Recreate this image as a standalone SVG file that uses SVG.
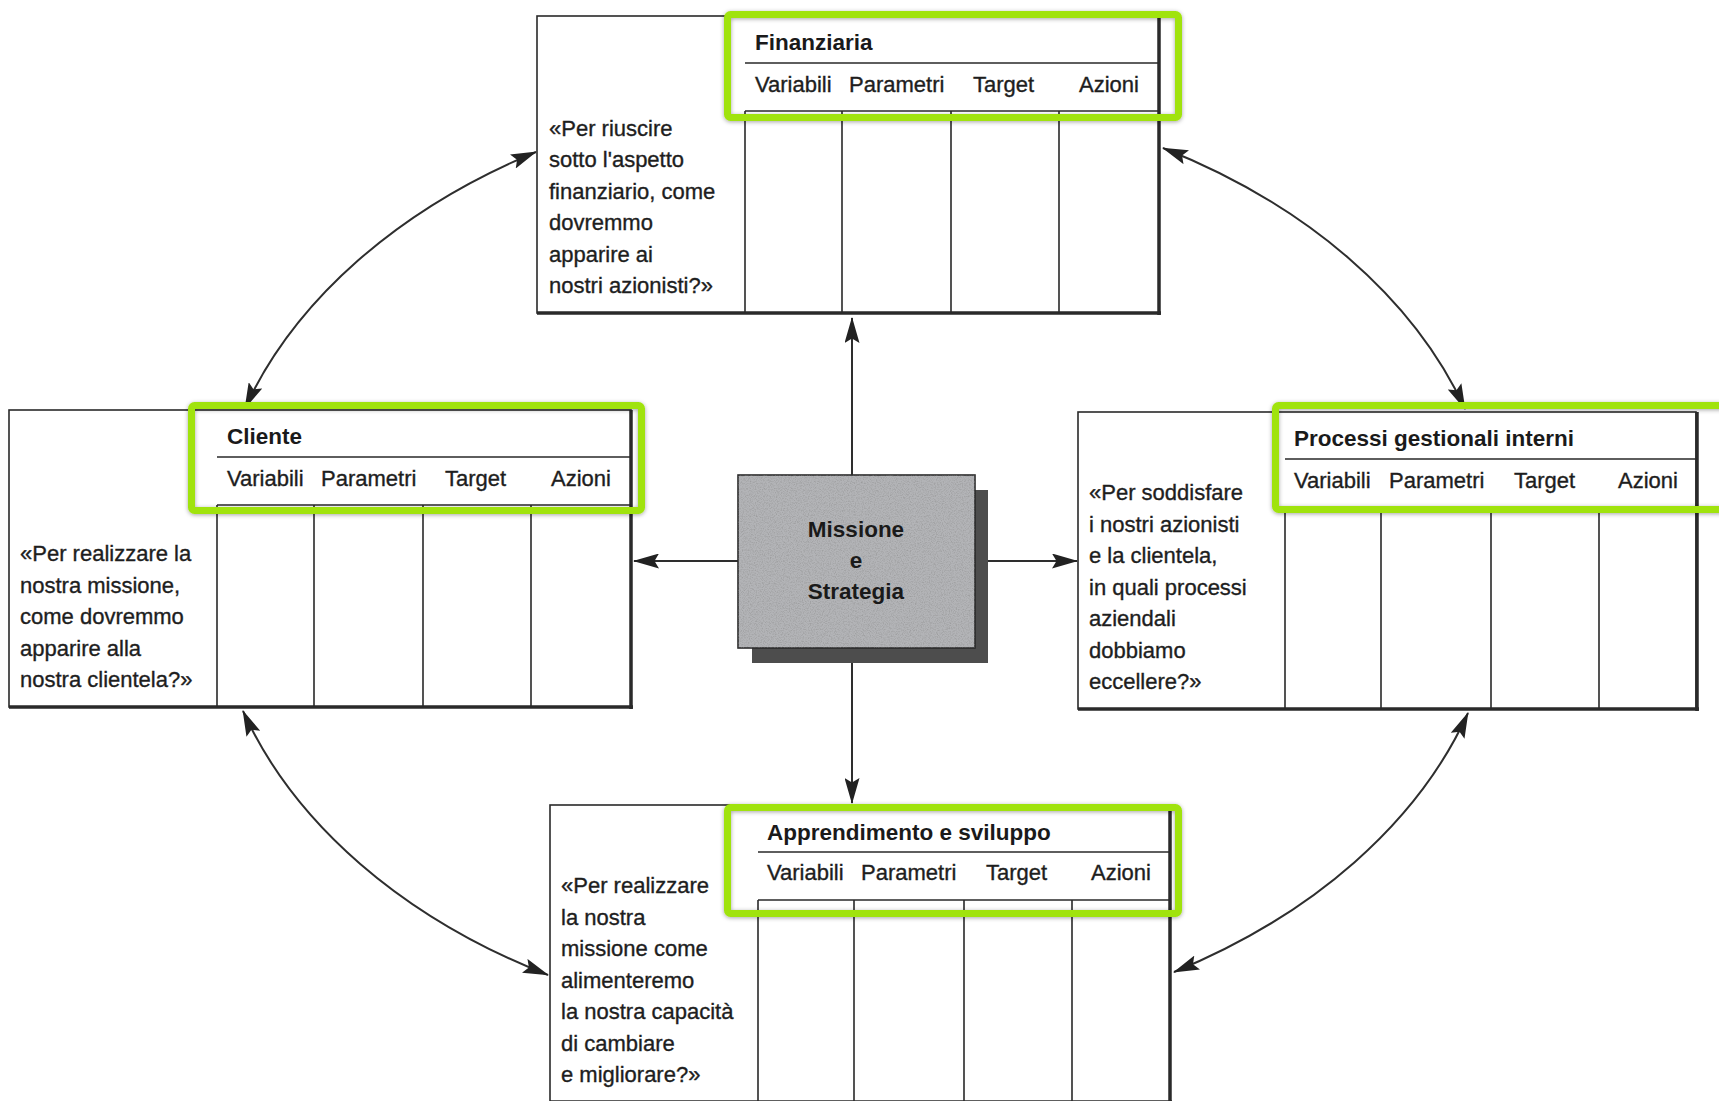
<svg xmlns="http://www.w3.org/2000/svg" width="1719" height="1101" viewBox="0 0 1719 1101">
  <defs>
    <style>
      .frame { fill: #ffffff; stroke: #2a2a2a; stroke-width: 1.6; }
      .edge { stroke: #2a2a2a; stroke-width: 3.5; fill: none; }
      .rule { stroke: #2a2a2a; stroke-width: 1.6; fill: none; }
      .q, .col { font-family: "Liberation Sans", Arial, sans-serif; font-size: 22px; fill: #1e1e1e; stroke: #1e1e1e; stroke-width: 0.35; }
      .head { font-family: "Liberation Sans", Arial, sans-serif; font-size: 22.5px; font-weight: bold; fill: #1a1a1a; }
      .core { font-family: "Liberation Sans", Arial, sans-serif; font-size: 22.5px; font-weight: bold; fill: #1a1a1a; text-anchor: middle; }
      .link { stroke: #2e2e2e; stroke-width: 2; fill: none; }
      .mark { fill: none; stroke: #a0e30a; stroke-width: 7; }
    </style>
    <marker id="tip" viewBox="0 0 26 15" refX="25" refY="7.5" markerWidth="26" markerHeight="15" markerUnits="userSpaceOnUse" orient="auto-start-reverse">
      <path d="M0,0 L26,7.5 L0,15 L4.5,7.5 Z" fill="#222"/>
    </marker>
    <filter id="grain" x="0" y="0" width="100%" height="100%">
      <feTurbulence type="fractalNoise" baseFrequency="0.85" numOctaves="2" seed="7"/>
      <feColorMatrix type="matrix" values="0 0 0 0 0.25  0 0 0 0 0.25  0 0 0 0 0.25  1.2 0 0 0 -0.5"/>
      <feComposite in2="SourceAlpha" operator="in"/>
    </filter>
    <filter id="soft" x="-5%" y="-10%" width="110%" height="120%">
      <feDropShadow dx="0" dy="1" stdDeviation="2" flood-color="#000" flood-opacity="0.35"/>
    </filter>
  </defs>

  <rect width="1719" height="1101" fill="#ffffff"/>

  <!-- Financial perspective -->
  <g id="finanziaria" transform="translate(537,16)">
    <rect class="frame" x="0" y="0" width="622" height="297"/>
    <path class="edge" d="M622,0 V299 M0,297 H624"/>
    <path class="rule" d="M208,47 H622 M208,95 H622 M208,95 V297 M305,95 V297 M414,95 V297 M522,95 V297"/>
    <text class="head" x="218" y="34">Finanziaria</text>
    <text class="col" y="76"><tspan x="218">Variabili</tspan><tspan x="312">Parametri</tspan><tspan x="436">Target</tspan><tspan x="542">Azioni</tspan></text>
    <text class="q" x="12">
      <tspan x="12" y="119.5">«Per riuscire</tspan>
      <tspan x="12" y="151">sotto l'aspetto</tspan>
      <tspan x="12" y="182.5">finanziario, come</tspan>
      <tspan x="12" y="214">dovremmo</tspan>
      <tspan x="12" y="245.5">apparire ai</tspan>
      <tspan x="12" y="277">nostri azionisti?»</tspan>
    </text>
  </g>

  <!-- Customer perspective -->
  <g id="cliente" transform="translate(9,410)">
    <rect class="frame" x="0" y="0" width="622" height="297"/>
    <path class="edge" d="M622,0 V299 M0,297 H624"/>
    <path class="rule" d="M208,47 H622 M208,95 H622 M208,95 V297 M305,95 V297 M414,95 V297 M522,95 V297"/>
    <text class="head" x="218" y="34">Cliente</text>
    <text class="col" y="76"><tspan x="218">Variabili</tspan><tspan x="312">Parametri</tspan><tspan x="436">Target</tspan><tspan x="542">Azioni</tspan></text>
    <text class="q">
      <tspan x="11" y="151">«Per realizzare la</tspan>
      <tspan x="11" y="182.5">nostra missione,</tspan>
      <tspan x="11" y="214">come dovremmo</tspan>
      <tspan x="11" y="245.5">apparire alla</tspan>
      <tspan x="11" y="277">nostra clientela?»</tspan>
    </text>
  </g>

  <!-- Internal process perspective -->
  <g id="processi" transform="translate(1078,412)">
    <rect class="frame" x="0" y="0" width="618" height="297"/>
    <path class="edge" d="M619,0 V299 M0,297 H621"/>
    <path class="rule" d="M207,47 H619 M207,95 H619 M207,95 V297 M303,95 V297 M413,95 V297 M521,95 V297"/>
    <text class="head" x="216" y="34">Processi gestionali interni</text>
    <text class="col" y="76"><tspan x="216">Variabili</tspan><tspan x="311">Parametri</tspan><tspan x="436">Target</tspan><tspan x="540">Azioni</tspan></text>
    <text class="q">
      <tspan x="11" y="88">«Per soddisfare</tspan>
      <tspan x="11" y="119.5">i nostri azionisti</tspan>
      <tspan x="11" y="151">e la clientela,</tspan>
      <tspan x="11" y="182.5">in quali processi</tspan>
      <tspan x="11" y="214">aziendali</tspan>
      <tspan x="11" y="245.5">dobbiamo</tspan>
      <tspan x="11" y="277">eccellere?»</tspan>
    </text>
  </g>

  <!-- Learning and growth perspective -->
  <g id="apprendimento" transform="translate(550,805)">
    <rect class="frame" x="0" y="0" width="620" height="297"/>
    <path class="edge" d="M620,0 V299 M0,297 H622"/>
    <path class="rule" d="M208,47 H620 M208,95 H620 M208,95 V297 M304,95 V297 M414,95 V297 M522,95 V297"/>
    <text class="head" x="217" y="35">Apprendimento e sviluppo</text>
    <text class="col" y="75"><tspan x="217">Variabili</tspan><tspan x="311">Parametri</tspan><tspan x="436">Target</tspan><tspan x="541">Azioni</tspan></text>
    <text class="q">
      <tspan x="11" y="88">«Per realizzare</tspan>
      <tspan x="11" y="119.5">la nostra</tspan>
      <tspan x="11" y="151">missione come</tspan>
      <tspan x="11" y="182.5">alimenteremo</tspan>
      <tspan x="11" y="214">la nostra capacità</tspan>
      <tspan x="11" y="245.5">di cambiare</tspan>
      <tspan x="11" y="277">e migliorare?»</tspan>
    </text>
  </g>

  <!-- Mission and strategy hub -->
  <g id="missione">
    <rect x="752" y="490" width="236" height="173" fill="#4d4d4d"/>
    <rect x="738" y="475" width="237" height="173" fill="#b3b4b7" stroke="#2a2a2a" stroke-width="1.6"/>
    <rect x="738" y="475" width="237" height="173" fill="#000" filter="url(#grain)"/>
    <text class="core" x="856" y="537">Missione</text>
    <text class="core" x="856" y="568">e</text>
    <text class="core" x="856" y="599">Strategia</text>
  </g>

  <!-- Connectors -->
  <g id="connectors">
    <path class="link" d="M852,475 V318" marker-end="url(#tip)"/>
    <path class="link" d="M852,663 V803" marker-end="url(#tip)"/>
    <path class="link" d="M738,561 H634" marker-end="url(#tip)"/>
    <path class="link" d="M988,561 H1077" marker-end="url(#tip)"/>
    <path class="link" d="M245,408 A647,464 0 0 1 536,152" marker-start="url(#tip)" marker-end="url(#tip)"/>
    <path class="link" d="M1163,148 A647,464 0 0 1 1465,409" marker-start="url(#tip)" marker-end="url(#tip)"/>
    <path class="link" d="M1468,713 A647,464 0 0 1 1174,972" marker-start="url(#tip)" marker-end="url(#tip)"/>
    <path class="link" d="M548,975 A647,464 0 0 1 243,711" marker-start="url(#tip)" marker-end="url(#tip)"/>
  </g>

  <!-- Highlight frames round the table headers -->
  <g id="highlights" filter="url(#soft)">
    <rect class="mark" x="727.5" y="14.5" width="451" height="103" rx="3"/>
    <rect class="mark" x="191.5" y="405.5" width="450" height="105" rx="3"/>
    <rect class="mark" x="1275.5" y="405.5" width="470" height="104" rx="3"/>
    <rect class="mark" x="727.5" y="807.5" width="451" height="106" rx="3"/>
  </g>
</svg>
